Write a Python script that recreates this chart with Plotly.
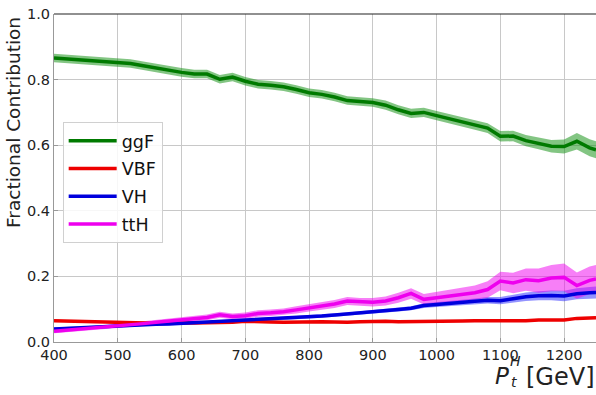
import plotly.graph_objects as go

pt = [400, 420, 440, 460, 480, 500, 520, 540, 560, 580, 600, 620, 640, 660, 680, 700,
      720, 740, 760, 780, 800, 820, 840, 860, 880, 900, 920, 940, 960, 980, 1000, 1020,
      1040, 1060, 1080, 1100, 1120, 1140, 1160, 1180, 1200, 1220, 1240, 1250]

ggF = [.866, .863, .860, .857, .853, .851, .849, .842, .835, .828, .822, .817, .817, .801, .808, .795,
       .786, .783, .778, .770, .760, .755, .747, .736, .732, .730, .722, .708, .697, .700, .690, .681,
       .672, .662, .652, .627, .628, .614, .606, .597, .596, .612, .592, .586]
ggF_err = [.013, .013, .013, .013, .013, .013, .013, .013, .013, .013, .013, .013, .013, .013, .013, .013,
           .013, .013, .013, .013, .013, .013, .013, .013, .013, .013, .014, .014, .014, .014, .014, .014,
           .015, .015, .015, .016, .016, .017, .018, .019, .021, .025, .026, .026]

VBF = [.065, .064, .064, .063, .062, .059, .058, .057, .057, .058, .057, .058, .059, .059, .060, .063,
       .063, .061, .060, .061, .062, .062, .061, .060, .062, .063, .063, .062, .062, .063, .064, .064,
       .064, .065, .065, .064, .065, .065, .067, .067, .067, .072, .073, .074]
VBF_err = [.003] * 44

VH = [.040, .042, .043, .045, .046, .048, .050, .052, .054, .055, .057, .058, .060, .061, .063, .065,
      .067, .069, .071, .074, .077, .079, .082, .085, .088, .092, .095, .099, .103, .111, .114, .118,
      .121, .124, .127, .126, .132, .138, .141, .142, .140, .147, .150, .151]
VH_err = [.004, .004, .004, .004, .004, .004, .004, .004, .004, .004, .004, .004, .004, .004, .004, .005,
          .005, .005, .005, .005, .005, .005, .005, .005, .006, .006, .006, .006, .006, .007, .007, .008,
          .008, .009, .010, .011, .012, .013, .014, .015, .016, .017, .018, .018]

ttH = [.033, .036, .040, .043, .046, .049, .052, .056, .060, .064, .068, .071, .075, .083, .078, .080,
       .087, .089, .092, .098, .104, .110, .116, .125, .122, .121, .125, .135, .148, .130, .135, .140,
       .146, .150, .160, .186, .180, .190, .187, .195, .197, .172, .188, .192]
ttH_err = [.006, .006, .006, .006, .006, .007, .007, .007, .007, .008, .008, .008, .009, .009, .009, .010,
           .010, .010, .010, .011, .011, .011, .012, .012, .012, .013, .014, .015, .016, .016, .017, .018,
           .020, .022, .025, .028, .031, .034, .037, .040, .042, .040, .042, .043]

series = [
    ("ggF", ggF, ggF_err, "#007a00", "rgba(30,150,30,0.55)"),
    ("VBF", VBF, VBF_err, "#ee0000", "rgba(255,0,0,0.5)"),
    ("VH", VH, VH_err, "#0000dd", "rgba(40,40,255,0.5)"),
    ("ttH", ttH, ttH_err, "#ee00ee", "rgba(240,0,240,0.5)"),
]

fig = go.Figure()
for name, y, e, lc, fc in series:
    up = [a + b for a, b in zip(y, e)]
    lo = [a - b for a, b in zip(y, e)]
    fig.add_trace(go.Scatter(x=pt, y=lo, mode="lines", line=dict(width=0), showlegend=False,
                             hoverinfo="skip", legendgroup=name))
    fig.add_trace(go.Scatter(x=pt, y=up, mode="lines", line=dict(width=0), fill="tonexty",
                             fillcolor=fc, showlegend=False, hoverinfo="skip", legendgroup=name))
for name, y, e, lc, fc in series:
    fig.add_trace(go.Scatter(x=pt, y=y, mode="lines", name=name,
                             legendgroup=name, line=dict(color=lc, width=3.5)))

font = "DejaVu Sans"
fig.update_layout(
    width=596, height=395,
    margin=dict(l=54, r=0, t=14, b=53, autoexpand=False),
    paper_bgcolor="white", plot_bgcolor="white",
    font=dict(family=font, size=14, color="#222"),
    showlegend=True,
    legend=dict(x=0.016, y=0.671, xanchor="left", yanchor="top",
                bgcolor="rgba(255,255,255,0.85)", bordercolor="#d0d0d0", borderwidth=1,
                font=dict(size=17.5, color="#111"), tracegroupgap=2, itemwidth=48),
    xaxis=dict(range=[400, 1250], tickvals=[400, 500, 600, 700, 800, 900, 1000, 1100, 1200],
               showgrid=True, gridcolor="#c8c8c8", gridwidth=1, zeroline=False,
               showline=True, linecolor="#999", linewidth=1, mirror=False, automargin=False,
               ticks="inside", ticklen=4, tickcolor="#999",
               tickfont=dict(size=14.5, color="#222")),
    yaxis=dict(range=[0, 1.0], tickvals=[0, 0.2, 0.4, 0.6, 0.8, 1.0],
               ticktext=["0.0", "0.2", "0.4", "0.6", "0.8", "1.0"],
               showgrid=True, gridcolor="#c8c8c8", gridwidth=1, zeroline=False,
               showline=True, linecolor="#999", linewidth=1, automargin=False,
               ticks="inside", ticklen=4, tickcolor="#999",
               tickfont=dict(size=14.5, color="#222")),
    shapes=[dict(type="line", xref="paper", yref="paper", x0=0, x1=1, y0=1, y1=1,
                 line=dict(color="#222", width=1.2))],
)

ann = [
    dict(text="Fractional Contribution", x=14, y=123, textangle=-90, size=18.5, anchor="center"),
    dict(text="<i>P</i>", x=502, y=376, size=23, anchor="center"),
    dict(text="<i>H</i>", x=515, y=361, size=14, anchor="center"),
    dict(text="<i>t</i>", x=514, y=382, size=14, anchor="center"),
    dict(text="[GeV]", x=597, y=377, size=24, anchor="right"),
]
for a in ann:
    fig.add_annotation(text=a["text"], xref="paper", yref="paper",
                       x=(a["x"] - 54) / 542, y=(342 - a["y"]) / 328,
                       xanchor=a["anchor"], yanchor="middle", showarrow=False,
                       textangle=a.get("textangle", 0),
                       font=dict(family=font, size=a["size"], color="#222"))

fig.write_html("out.html", config={"displayModeBar": False},
               post_script="document.body.style.margin='0px';")
